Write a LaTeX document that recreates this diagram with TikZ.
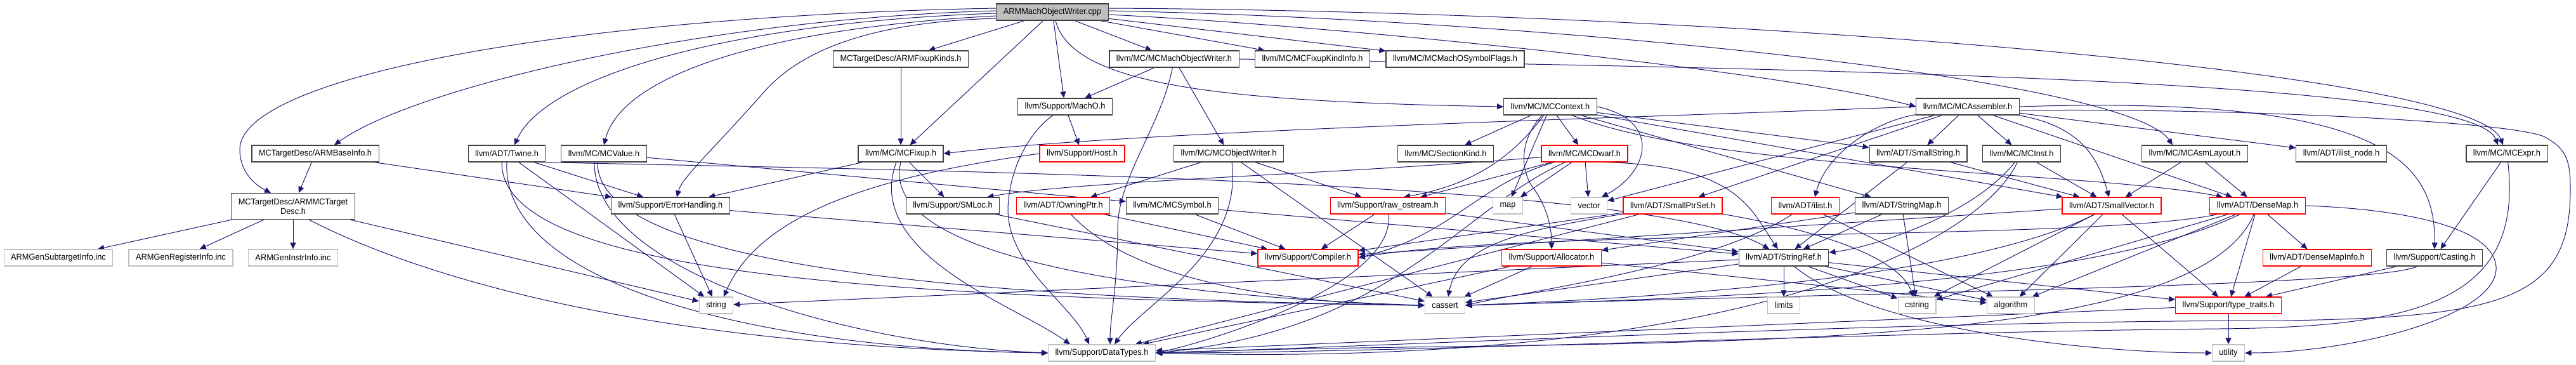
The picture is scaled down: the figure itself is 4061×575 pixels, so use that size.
\documentclass[tikz,border=0pt]{standalone}
\usepackage{fontspec}
\setmainfont{Liberation Sans}[FakeStretch=0.95]
\usetikzlibrary{arrows.meta,backgrounds}
\definecolor{edgec}{RGB}{25,25,112}
\definecolor{bk}{RGB}{64,64,64}
\definecolor{gr}{RGB}{191,191,191}
\definecolor{rd}{RGB}{255,0,0}
\begin{document}
\begin{tikzpicture}[x=1pt,y=-1pt,
  font=\fontsize{13.5}{15}\selectfont,
  nd/.style={draw=bk, line width=1.2pt, fill=white, minimum height=26pt, inner xsep=11pt, inner ysep=2pt},
  rn/.style={nd, draw=rd},
  gn/.style={nd, draw=gr},
  rootn/.style={nd, fill=gr},
  e/.style={draw=edgec, line width=1pt, -{Triangle[length=10pt,width=9pt]}}]
\useasboundingbox (0,0) rectangle (4061,575);
% row 1
\node[rootn] (root) at (1659,19) {ARMMachObjectWriter.cpp};
% row 2
\node[nd] (fixk) at (1420,93) {MCTargetDesc/ARMFixupKinds.h};
\node[nd] (mow) at (1851,93) {llvm/MC/MCMachObjectWriter.h};
\node[nd] (fki) at (2069,93) {llvm/MC/MCFixupKindInfo.h};
\node[nd] (msf) at (2294,93) {llvm/MC/MCMachOSymbolFlags.h};
% row 3
\node[nd] (macho) at (1679,168) {llvm/Support/MachO.h};
\node[nd] (ctx) at (2444,168) {llvm/MC/MCContext.h};
\node[nd] (asm) at (3102,168) {llvm/MC/MCAssembler.h};
% row 4
\node[nd] (abi) at (497,242) {MCTargetDesc/ARMBaseInfo.h};
\node[nd] (twine) at (799,242) {llvm/ADT/Twine.h};
\node[nd] (mcv) at (952,242) {llvm/MC/MCValue.h};
\node[nd] (fix) at (1420,242) {llvm/MC/MCFixup.h};
\node[rn] (host) at (1706,242) {llvm/Support/Host.h};
\node[nd] (ow) at (1937,242) {llvm/MC/MCObjectWriter.h};
\node[nd] (sk) at (2279,242) {llvm/MC/SectionKind.h};
\node[rn] (dw) at (2498,242) {llvm/MC/MCDwarf.h};
\node[nd] (ss) at (3024,242) {llvm/ADT/SmallString.h};
\node[nd] (inst) at (3187,242) {llvm/MC/MCInst.h};
\node[nd] (lay) at (3460,242) {llvm/MC/MCAsmLayout.h};
\node[nd] (iln) at (3691,242) {llvm/ADT/ilist\_node.h};
\node[nd] (expr) at (3952,242) {llvm/MC/MCExpr.h};
% row 5
\node[nd, align=center, minimum height=41pt, inner ysep=3pt] (tdesc) at (462,325) {MCTargetDesc/ARMMCTarget\\Desc.h};
\node[nd] (eh) at (1057,324) {llvm/Support/ErrorHandling.h};
\node[nd] (sml) at (1502,324) {llvm/Support/SMLoc.h};
\node[rn] (own) at (1676,324) {llvm/ADT/OwningPtr.h};
\node[nd] (sym) at (1848,324) {llvm/MC/MCSymbol.h};
\node[rn] (ros) at (2188,324) {llvm/Support/raw\_ostream.h};
\node[gn] (map) at (2377,324) {map};
\node[gn] (vec) at (2505,324) {vector};
\node[rn] (sps) at (2637,324) {llvm/ADT/SmallPtrSet.h};
\node[rn] (ilist) at (2846,324) {llvm/ADT/ilist.h};
\node[nd] (smap) at (2998,324) {llvm/ADT/StringMap.h};
\node[rn] (sv) at (3329,324) {llvm/ADT/SmallVector.h};
\node[rn] (dm) at (3559,324) {llvm/ADT/DenseMap.h};
% row 6
\node[gn] (gsub) at (92,406) {ARMGenSubtargetInfo.inc};
\node[gn] (greg) at (285,406) {ARMGenRegisterInfo.inc};
\node[gn] (ginst) at (462,406) {ARMGenInstrInfo.inc};
\node[rn] (comp) at (2062,406) {llvm/Support/Compiler.h};
\node[rn] (alloc) at (2446,406) {llvm/Support/Allocator.h};
\node[nd] (sref) at (2812,406) {llvm/ADT/StringRef.h};
\node[rn] (dmi) at (3653,406) {llvm/ADT/DenseMapInfo.h};
\node[nd] (cast) at (3838,406) {llvm/Support/Casting.h};
% row 7
\node[gn] (str) at (1129,481) {string};
\node[gn] (cas) at (2278,481) {cassert};
\node[gn] (lim) at (2812,481) {limits};
\node[gn] (cstr) at (3022,481) {cstring};
\node[gn] (alg) at (3170,481) {algorithm};
\node[rn] (tt) at (3513,481) {llvm/Support/type\_traits.h};
% row 8
\node[gn] (dt) at (1737,556) {llvm/Support/DataTypes.h};
\node[gn] (util) at (3513,556) {utility};

\begin{scope}[on background layer]
% straight connectors
\foreach \a/\b in {root/fixk, root/fix, root/macho, root/mow, root/fki, root/msf,
  abi/tdesc, abi/eh,
  tdesc/gsub, tdesc/greg, tdesc/ginst, tdesc/str,
  fixk/fix, mow/macho, mow/ow, macho/host,
  twine/str, twine/eh, mcv/sym, fix/sml, fix/eh,
  ow/own, ow/ros, ow/cas,
  ctx/sk, ctx/dw, ctx/smap, ctx/map, ctx/ss, ctx/sv,
  dw/ros, dw/vec, dw/map,
  asm/ss, asm/inst, asm/iln, asm/sps, asm/dm, asm/vec,
  lay/sv, lay/dm, inst/sv, ss/sv, ss/sref, expr/cast,
  sym/sref, sym/comp, sml/cas, own/comp, ros/comp, ros/sref,
  eh/comp, eh/str, alloc/cas, alloc/dt, alloc/alg,
  sps/comp, sps/dt, ilist/alg, smap/alloc, smap/sref, smap/cstr,
  sv/cstr, sv/alg, sv/tt, sv/comp,
  sref/lim, sref/cstr, sref/alg, sref/cas, sref/str, sref/tt,
  dm/dmi, dm/tt, dm/alg, dm/cstr,
  dmi/tt, cast/tt, tt/util, tt/dt}
  \draw[e] (\a) -- (\b);
% curved connectors from the root
\draw[e] ([yshift=6pt]root.west) .. controls (900,25) and (380,120) .. (378,235) .. controls (378,270) and (400,290) .. ([xshift=-35pt]tdesc.north);
\draw[e] ([yshift=2pt]root.west) .. controls (1100,30) and (650,140) .. ([xshift=30pt]abi.north);
\draw[e] ([yshift=-2pt]root.west) .. controls (1150,35) and (860,120) .. ([xshift=12pt]twine.north);
\draw[e] ([yshift=-6pt]root.west) .. controls (1200,45) and (980,120) .. (mcv.north);
\draw[e] ([yshift=-10pt]root.west) .. controls (1350,35) and (1250,90) .. (1200,150) .. controls (1120,240) and (1075,280) .. ([xshift=10pt]eh.north);
\draw[e] ([xshift=5pt]root.south) .. controls (1690,130) and (1900,160) .. (ctx.west);
\draw[e] ([yshift=-4pt]root.east) .. controls (2100,40) and (2800,110) .. (asm.west);
\draw[e] ([yshift=2pt]root.east) .. controls (2400,30) and (3350,120) .. ([xshift=-35pt]lay.north);
\draw[e] ([yshift=6pt]root.east) .. controls (2700,18) and (3900,110) .. ([xshift=-6pt]expr.north);
% other curved connectors
\draw[e] ([xshift=25pt]tdesc.south) .. controls (650,430) and (1000,545) .. (dt.west);
\draw[e] (mow) .. controls (1830,200) and (1762,280) .. (1762,360) .. controls (1762,450) and (1750,500) .. ([xshift=13pt]dt.north);
\draw[e] (mow.east) .. controls (3000,110) and (3900,130) .. ([xshift=-14pt]expr.north);
\draw[e] (macho) .. controls (1620,210) and (1590,270) .. (1589,330) .. controls (1589,420) and (1690,480) .. ([xshift=-20pt]dt.north);
\draw[e] (host.west) .. controls (1400,275) and (1200,330) .. ([xshift=12pt]str.north);
\draw[e] (twine.south east) .. controls (1400,268) and (2600,280) .. (sref);
\draw[e] (twine.south) .. controls (790,450) and (1200,550) .. (dt.west);
\draw[e] ([xshift=-8pt]twine.south) .. controls (790,420) and (1300,470) .. (cas.west);
\draw[e] ([xshift=-15pt]mcv.south) .. controls (935,430) and (1350,545) .. (dt.west);
\draw[e] ([xshift=-10pt]mcv.south) .. controls (940,400) and (1400,470) .. (cas.west);
\draw[e] ([xshift=-7pt]fix.south) .. controls (1360,400) and (1600,480) .. ([xshift=-50pt]dt.north);
\draw[e] (fix.south) .. controls (1380,420) and (1900,470) .. (cas.west);
\draw[e] ([xshift=5pt]ow.south) .. controls (1960,400) and (1800,480) .. ([xshift=20pt]dt.north);
\draw[e] (ctx) .. controls (2700,270) and (3300,270) .. ([xshift=-55pt]dm.north);
\draw[e] (ctx) .. controls (2395,220) and (2395,270) .. (2420,300) .. controls (2440,330) and (2446,360) .. (alloc.north);
\draw[e] (ctx) .. controls (2390,240) and (2330,290) .. ([xshift=25pt]ros.north);
\draw[e] (ctx.east) .. controls (2620,190) and (2600,270) .. ([xshift=20pt]vec.north);
\draw[e] ([xshift=30pt]dw.south) .. controls (2740,260) and (2760,330) .. (sref);
\draw[e] (dw) .. controls (2330,290) and (2290,370) .. (comp.east);
\draw[e] (dw) .. controls (2300,330) and (2200,520) .. (dt.east);
\draw[e] (dw) .. controls (2100,275) and (1700,285) .. ([xshift=-20pt]sml.north east);
\draw[e] (asm.west) .. controls (2600,185) and (1800,205) .. (fix.east);
\draw[e] (asm) .. controls (2960,190) and (2880,240) .. ([xshift=15pt]ilist.north);
\draw[e] (asm) .. controls (3290,200) and (3310,260) .. (sv);
\draw[e] (asm.east) .. controls (3750,150) and (3840,250) .. (cast.north);
\draw[e] ([yshift=-6pt]asm.east) .. controls (3500,170) and (3950,190) .. (4010,215) .. controls (4050,235) and (4052,260) .. (4052,300) .. controls (4052,470) and (3950,500) .. (3600,505) .. controls (3000,505) and (2200,545) .. (dt.east);
\draw[e] (inst) .. controls (3110,340) and (2950,390) .. (sref);
\draw[e] (inst) .. controls (3110,400) and (2700,580) .. (dt.east);
\draw[e] (expr) .. controls (3980,480) and (3800,515) .. (3500,518) .. controls (3000,522) and (2200,556) .. (dt.east);
\draw[e] (own) .. controls (1800,460) and (2100,480) .. (cas.west);
\draw[e] (ros) .. controls (2200,450) and (1900,540) .. (dt.east);
\draw[e] (sps) .. controls (2420,360) and (2300,380) .. ([xshift=5pt]cas.north);
\draw[e] (sps) .. controls (2850,360) and (2990,400) .. (cstr);
\draw[e] (ilist) .. controls (2700,420) and (2400,460) .. (cas.east);
\draw[e] (sv) .. controls (3100,440) and (2600,470) .. (cas.east);
\draw[e] (sref) .. controls (2950,520) and (3300,556) .. (util.west);
\draw[e] (dm.east) .. controls (3800,330) and (3930,360) .. (3935,420) .. controls (3940,500) and (3700,556) .. (util.east);
\draw[e] (dm) .. controls (3300,450) and (2700,470) .. (cas.east);
\draw[e] (dm) .. controls (3300,380) and (2400,360) .. (comp.east);
\draw[e] (dm) .. controls (3450,580) and (2500,530) .. (dt.east);
\draw[e] (cast) .. controls (3750,450) and (3000,460) .. (cas.east);
\end{scope}
\end{tikzpicture}
\end{document}
